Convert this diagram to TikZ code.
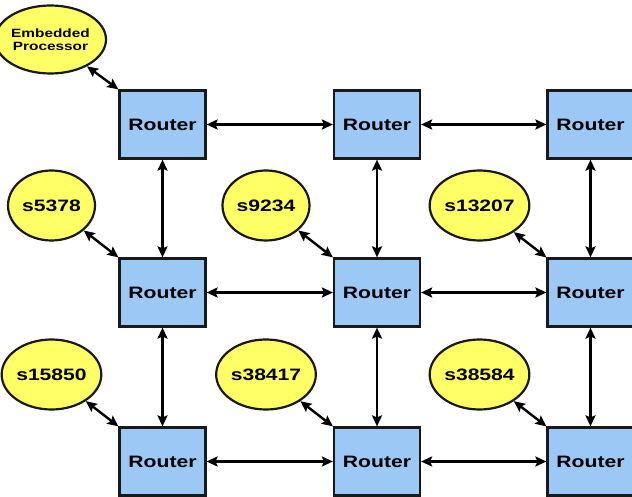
\documentclass[tikz,border=0pt]{standalone}
\usepackage{fontspec}
\usepackage{xcolor}
\usepackage{tikz}
\usetikzlibrary{arrows.meta, shapes.geometric}

\newfontfamily\nocfont[FakeStretch=1.28]{Liberation Sans}
\definecolor{routerblue}{RGB}{155,200,245}
\definecolor{coreyellow}{RGB}{255,255,102}

\tikzset{
    router/.style={draw=black!90, line width=2.2pt, fill=routerblue, minimum width=86pt, minimum height=68pt, inner sep=0pt, font=\nocfont\bfseries\fontsize{16.5}{18}\selectfont},
    core/.style={ellipse, draw=black!90, line width=2.2pt, fill=coreyellow, minimum width=87pt, minimum height=70pt, inner sep=0pt, font=\nocfont\bfseries\fontsize{16.5}{18}\selectfont},
    link/.style={line width=2.4pt, {Stealth[length=11pt,width=10pt,inset=2pt]}-{Stealth[length=11pt,width=10pt,inset=2pt]}}
}

\begin{document}
\begin{tikzpicture}[x=1pt, y=-1pt]
                \useasboundingbox (0,0) rectangle (632,497);
                \clip (0,0) rectangle (632,497);
                \foreach \cx[count=\i] in {162.5, 377, 590.5} {
                    \foreach \ry[count=\j] in {124.5, 292.5, 461.5} {
                        \node[router] (r\j\i) at (\cx, \ry) {Router};
                    }
                }
                \node[core, minimum height=68pt, font=\nocfont\bfseries\fontsize{12}{13.5}\selectfont, align=center] (c11) at ([xshift=-112pt, yshift=85pt]r11) {Embedded\\Processor};
                \foreach \txt/\j/\i in {s5378/2/1, s9234/2/2, s13207/2/3, s15850/3/1, s38417/3/2, s38584/3/3} {
                    \node[core] (c\j\i) at ([xshift=-111pt, yshift=87pt]r\j\i) {\txt};
                }
                \foreach \j/\i in {1/1, 2/1, 2/2, 2/3, 3/1, 3/2, 3/3} {
                    \draw[link] (c\j\i) -- (r\j\i.north west);
                }
                \foreach \j in {1, 2, 3} {
                    \draw[link] (r\j1) -- (r\j2);
                    \draw[link] (r\j2) -- (r\j3);
                }
                \foreach \i in {1, 2, 3} {
                    \draw[link] (r1\i) -- (r2\i);
                    \draw[link] (r2\i) -- (r3\i);
                }
            \end{tikzpicture}
\end{document}
